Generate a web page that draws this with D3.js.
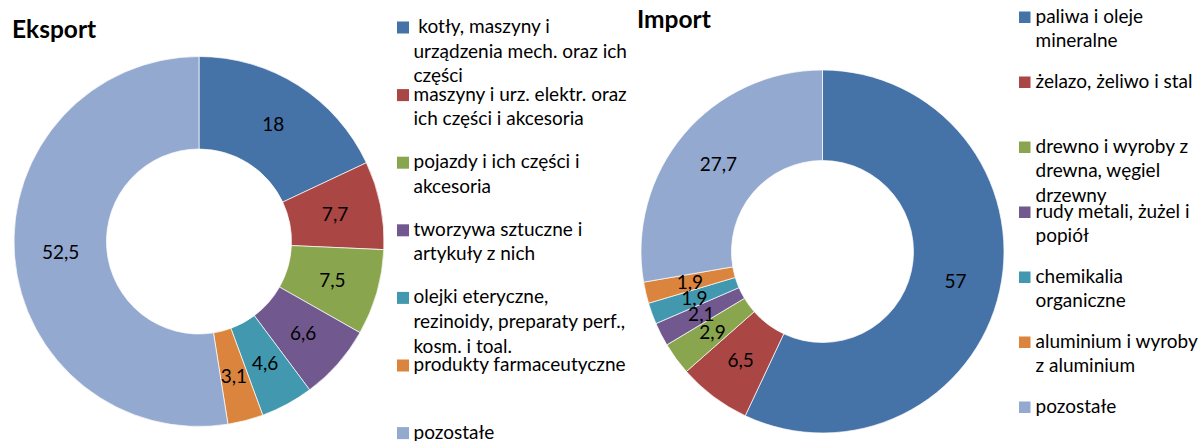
<!DOCTYPE html>
<html>
<head>
<meta charset="utf-8">
<script src="https://cdn.jsdelivr.net/npm/d3@7"></script>
<style>
  html, body { margin: 0; padding: 0; background: #fff; }
  svg { display: block; }
  text { font-family: Lato, "Open Sans", sans-serif; fill: #000; white-space: pre; }
</style>
</head>
<body>
<svg id="chart" width="1201" height="441"></svg>
<script>
// Export structure (%), by commodity group
const exportCategories = [
  [" kotły, maszyny i", "urządzenia mech. oraz ich", "części"],
  ["maszyny i urz. elektr. oraz", "ich części i akcesoria"],
  ["pojazdy i ich części i", "akcesoria"],
  ["tworzywa sztuczne i", "artykuły z nich"],
  ["olejki eteryczne,", "rezinoidy, preparaty perf.,", "kosm. i toal."],
  ["produkty farmaceutyczne"],
  ["pozostałe"]
];
const exportValues = [18, 7.7, 7.5, 6.6, 4.6, 3.1, 52.5];

// Import structure (%), by commodity group
const importCategories = [
  ["paliwa i oleje", "mineralne"],
  ["żelazo, żeliwo i stal"],
  ["drewno i wyroby z", "drewna, węgiel", "drzewny"],
  ["rudy metali, żużel i", "popiół"],
  ["chemikalia", "organiczne"],
  ["aluminium i wyroby", "z aluminium"],
  ["pozostałe"]
];
const importValues = [57, 6.5, 2.9, 2.1, 1.9, 1.9, 27.7];

const titles = ["Eksport", "Import"];
const palette = ["#4572A7", "#AA4643", "#89A54E", "#71588F", "#4198AF", "#DB843D", "#93A9CF"];

const svg = d3.select("#chart");
const color = d3.scaleOrdinal().domain(d3.range(7)).range(palette);
const fmt = v => String(v).replace(".", ",");

function drawDonut(cfg) {
  const g = svg.append("g").attr("transform", `translate(${cfg.cx},${cfg.cy})`);
  const pie = d3.pie().sort(null).value(d => d)
    .startAngle(0).endAngle(2 * Math.PI);
  const arcs = pie(cfg.values);
  const arc = d3.arc().innerRadius(cfg.ri).outerRadius(cfg.ro);
  const labelArc = d3.arc().innerRadius((cfg.ri + cfg.ro) / 2).outerRadius((cfg.ri + cfg.ro) / 2);

  g.selectAll("path.slice").data(arcs).join("path")
    .attr("class", "slice")
    .attr("d", arc)
    .attr("fill", (d, i) => color(i))
    .attr("stroke", "#fff")
    .attr("stroke-width", 0.7);

  g.selectAll("text.val").data(arcs).join("text")
    .attr("class", "val")
    .attr("transform", d => `translate(${labelArc.centroid(d)})`)
    .attr("text-anchor", "middle")
    .attr("dy", "0.36em")
    .style("font-size", "19px")
    .text(d => fmt(d.data));

  svg.append("text")
    .attr("x", cfg.titleX).attr("y", cfg.titleY)
    .style("font-size", "24.5px").style("font-weight", "bold")
    .text(cfg.title);

  const lg = svg.append("g");
  const items = lg.selectAll("g.item").data(cfg.categories).join("g")
    .attr("class", "item")
    .attr("transform", (d, i) => `translate(${cfg.legX},${cfg.legY + i * cfg.legStep})`);
  items.append("rect")
    .attr("width", cfg.sq).attr("height", cfg.sq)
    .attr("fill", (d, i) => color(i));
  items.append("text")
    .style("font-size", "19px")
    .selectAll("tspan").data(d => d).join("tspan")
    .attr("x", cfg.textDx)
    .attr("y", (d, j) => cfg.sq - 0.5 + j * 24.6)
    .text(d => d);
}

drawDonut({
  title: titles[0], titleX: 12, titleY: 38,
  values: exportValues, categories: exportCategories,
  cx: 199, cy: 241.5, ro: 185, ri: 92.5,
  legX: 397, legY: 21.5, legStep: 67.6, sq: 12, textDx: 16.5
});

drawDonut({
  title: titles[1], titleX: 637, titleY: 28,
  values: importValues, categories: importCategories,
  cx: 822.5, cy: 251.5, ro: 181.5, ri: 91,
  legX: 1019, legY: 11.5, legStep: 65, sq: 11.5, textDx: 16.5
});
</script>
</body>
</html>
